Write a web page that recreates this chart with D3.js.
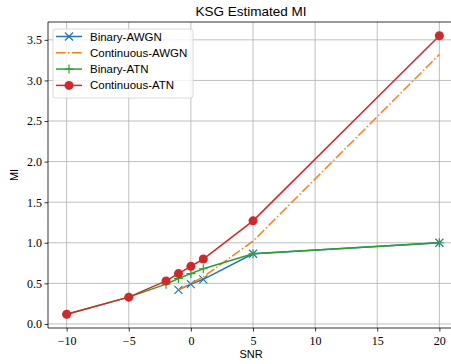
<!DOCTYPE html>
<html><head><meta charset="utf-8">
<script src="https://cdn.jsdelivr.net/npm/d3@7"></script>
<style>body{margin:0;background:#fff}svg{display:block}</style>
</head><body><svg id="c" width="451" height="364"></svg>
<script>
const xTicks = [-10, -5, 0, 5, 10, 15, 20];
const yTicks = [0.0, 0.5, 1.0, 1.5, 2.0, 2.5, 3.0, 3.5];
const snrAWGN = [-1, 0, 1, 5, 20];
const binaryAWGN = [0.42, 0.49, 0.55, 0.865, 1.0];
const continuousAWGN = [0.42, 0.50, 0.58, 1.02, 3.32];
const snrATN = [-10, -5, -2, -1, 0, 1, 5, 20];
const binaryATN = [0.12, 0.33, 0.49, 0.56, 0.62, 0.68, 0.865, 1.0];
const continuousATN = [0.12, 0.33, 0.53, 0.62, 0.71, 0.80, 1.27, 3.55];
const seriesNames = ["Binary-AWGN", "Continuous-AWGN", "Binary-ATN", "Continuous-ATN"];

const svg = d3.select("#c");
const L = 48, R = 458, T = 22, B = 328;
const x = d3.scaleLinear().domain([-11.5, 21.5]).range([L, R]);
const y = d3.scaleLinear().domain([-0.05, 3.72]).range([B, T]);
const sans = "'Liberation Sans', Arial, sans-serif";
const serif = "'Liberation Serif', serif";

// grid
const g = svg.append("g");
g.selectAll(".gx").data(xTicks).enter().append("line")
  .attr("x1", d => x(d)).attr("x2", d => x(d)).attr("y1", T).attr("y2", B)
  .attr("stroke", "#b0b0b0").attr("stroke-width", 0.8);
g.selectAll(".gy").data(yTicks).enter().append("line")
  .attr("x1", L).attr("x2", R).attr("y1", d => y(d)).attr("y2", d => y(d))
  .attr("stroke", "#b0b0b0").attr("stroke-width", 0.8);

const fmtMinus = s => s.replace("-", "\u2212");
const xAxis = svg.append("g").attr("transform", `translate(0,${B})`)
  .call(d3.axisBottom(x).tickValues(xTicks).tickSize(3.5).tickSizeOuter(0).tickFormat(d => fmtMinus(String(d))));
const yAxis = svg.append("g").attr("transform", `translate(${L},0)`)
  .call(d3.axisLeft(y).tickValues(yTicks).tickSize(3.5).tickSizeOuter(0).tickFormat(d3.format(".1f")));
[xAxis, yAxis].forEach(a => {
  a.attr("font-family", serif).attr("font-size", 12);
  a.select(".domain").remove();
  a.selectAll("line").attr("stroke", "#000").attr("stroke-width", 0.8);
  a.selectAll("text").style("font-family", serif).style("font-size", "12px").attr("fill", "#000");
});
xAxis.selectAll("text").attr("y", 8).attr("dy", "0.71em");
yAxis.selectAll("text").attr("x", -6);

// spines
svg.append("line").attr("x1", L).attr("x2", L).attr("y1", T).attr("y2", B).attr("stroke", "#000").attr("stroke-width", 0.8);
svg.append("line").attr("x1", L).attr("x2", R).attr("y1", B).attr("y2", B).attr("stroke", "#000").attr("stroke-width", 0.8);
svg.append("line").attr("x1", L).attr("x2", R).attr("y1", T).attr("y2", T).attr("stroke", "#000").attr("stroke-width", 0.8);

const colors = ["#1f77b4", "#ff7f0e", "#2ca02c", "#d62728"];
const data = [
  {xs: snrAWGN, ys: binaryAWGN, m: "x", dash: null},
  {xs: snrAWGN, ys: continuousAWGN, m: null, dash: "9.6,2.4,1.5,2.4"},
  {xs: snrATN, ys: binaryATN, m: "+", dash: null},
  {xs: snrATN, ys: continuousATN, m: "o", dash: null},
];
const line = d3.line().x(d => x(d[0])).y(d => y(d[1]));
function marker(sel, m, c, cx, cy) {
  if (m === "o") sel.append("circle").attr("cx", cx).attr("cy", cy).attr("r", 4.5).attr("fill", c);
  else if (m === "x") sel.append("path").attr("d", `M${cx-4},${cy-4}L${cx+4},${cy+4}M${cx-4},${cy+4}L${cx+4},${cy-4}`).attr("stroke", c).attr("stroke-width", 1.2);
  else if (m === "+") sel.append("path").attr("d", `M${cx-4.5},${cy}L${cx+4.5},${cy}M${cx},${cy-4.5}L${cx},${cy+4.5}`).attr("stroke", c).attr("stroke-width", 1.2);
}
const plot = svg.append("g");
data.forEach((s, i) => {
  const pts = s.xs.map((v, j) => [v, s.ys[j]]);
  plot.append("path").attr("d", line(pts)).attr("fill", "none").attr("stroke", colors[i])
    .attr("stroke-width", 1.5).attr("stroke-dasharray", s.dash);
  if (s.m) pts.forEach(p => marker(plot, s.m, colors[i], x(p[0]), y(p[1])));
});

// title, labels
svg.append("text").attr("x", (L + R) / 2 - 2).attr("y", 16).attr("text-anchor", "middle")
  .attr("font-family", sans).attr("font-size", 13.5).text("KSG Estimated MI");
svg.append("text").attr("x", (L + R) / 2 - 2).attr("y", 358).attr("text-anchor", "middle")
  .attr("font-family", sans).attr("font-size", 11).text("SNR");
svg.append("text").attr("transform", "translate(18,175) rotate(-90)").attr("text-anchor", "middle")
  .attr("font-family", sans).attr("font-size", 11).text("MI");

// legend
const lg = svg.append("g");
lg.append("rect").attr("x", 53).attr("y", 29).attr("width", 140).attr("height", 69).attr("rx", 2.5)
  .attr("fill", "#fff").attr("fill-opacity", 0.8).attr("stroke", "#d0d0d0").attr("stroke-width", 0.8);
seriesNames.forEach((n, i) => {
  const yy = 36.5 + i * 16.3;
  lg.append("line").attr("x1", 56).attr("x2", 82).attr("y1", yy).attr("y2", yy)
    .attr("stroke", colors[i]).attr("stroke-width", 1.5).attr("stroke-dasharray", data[i].dash);
  if (data[i].m) marker(lg, data[i].m, colors[i], 69, yy);
  lg.append("text").attr("x", 90).attr("y", yy + 4).attr("font-family", sans).attr("font-size", 11.5).text(n);
});
</script></body></html>
